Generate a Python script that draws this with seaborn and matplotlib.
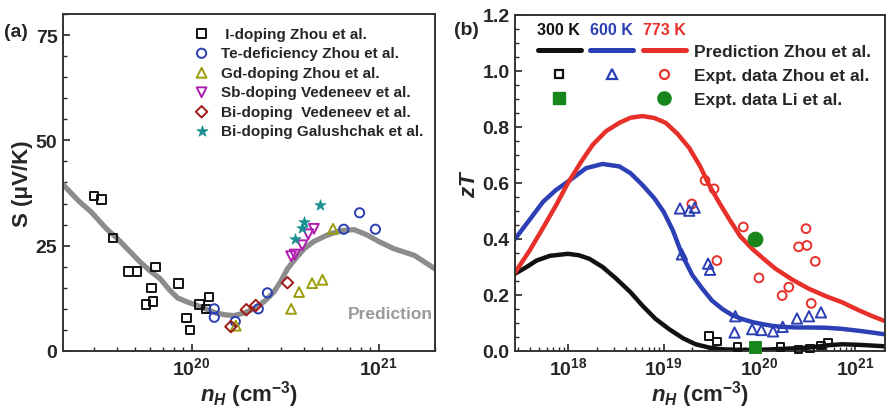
import numpy as np
import pandas as pd
import seaborn as sns
from matplotlib import pyplot as plt
from matplotlib.lines import Line2D
from matplotlib.legend_handler import HandlerTuple
from matplotlib.ticker import MultipleLocator, LogLocator, NullFormatter, FixedLocator, FixedFormatter

# ---------------- panel (a): Seebeck vs carrier concentration ----------------
pred_a_n = [2.05e19, 2.5e19, 2.9e19, 3.5e19, 4.0e19, 4.7e19, 5.3e19, 6.0e19, 6.8e19, 7.6e19,
            8.4e19, 9.5e19, 1.07e20, 1.2e20, 1.35e20, 1.5e20, 1.68e20, 1.9e20, 2.15e20, 2.45e20,
            2.75e20, 3.0e20, 3.25e20, 3.6e20, 4.0e20, 4.5e20, 5.3e20, 6.3e20, 7.4e20, 8.7e20,
            1.0e21, 1.2e21, 1.55e21, 2.0e21]
pred_a_S = [39.5, 35.5, 33.0, 29.0, 26.7, 23.5, 21.1, 19.0, 17.1, 14.5,
            12.6, 11.6, 10.8, 9.9, 9.0, 8.6, 8.4, 9.0, 10.0, 11.8,
            14.0, 16.6, 19.5, 22.0, 24.3, 26.0, 27.5, 28.6, 28.8, 27.5,
            26.0, 24.3, 22.7, 19.5]

i_dop_n = [3.0e19, 3.3e19, 3.8e19, 4.6e19, 5.1e19, 6.4e19, 6.1e19, 5.7e19, 6.2e19, 8.5e19,
           9.4e19, 9.8e19, 1.1e20, 1.24e20, 1.19e20]
i_dop_S = [36.8, 35.9, 26.8, 18.9, 18.9, 19.9, 14.9, 11.0, 11.7, 16.0,
           7.8, 5.0, 11.0, 12.8, 10.0]

te_def_n = [1.32e20, 1.32e20, 1.71e20, 2.27e20, 2.54e20, 6.5e20, 7.9e20, 9.6e20]
te_def_S = [10.0, 8.0, 7.0, 10.0, 13.8, 28.9, 32.8, 28.9]

gd_dop_n = [1.72e20, 3.4e20, 3.75e20, 4.4e20, 5.0e20, 5.7e20]
gd_dop_S = [6.0, 10.0, 14.0, 16.1, 16.9, 29.0]

sb_dop_n = [3.4e20, 3.56e20, 3.9e20, 4.2e20, 4.5e20]
sb_dop_S = [22.5, 22.9, 25.1, 27.7, 29.0]

bi_ved_n = [1.62e20, 1.96e20, 2.2e20, 3.25e20]
bi_ved_S = [5.8, 9.8, 10.8, 16.2]

bi_gal_n = [3.56e20, 3.87e20, 4.0e20, 4.85e20]
bi_gal_S = [26.5, 29.3, 30.5, 34.6]

# ---------------- panel (b): zT vs carrier concentration ----------------
pred_773_n = [2.8e17, 4e17, 5.5e17, 7.5e17, 1e18, 1.4e18, 1.82e18, 2.5e18, 3.45e18, 4.5e18,
              6e18, 8e18, 1.05e19, 1.4e19, 1.85e19, 2.4e19, 2.98e19, 3.8e19, 4.8e19, 6.3e19,
              8.4e19, 1.1e20, 1.47e20, 2.2e20, 3.3e20, 5e20, 7.3e20, 1.1e21, 1.5e21, 2e21]
pred_773_zT = [0.28, 0.36, 0.44, 0.52, 0.60, 0.68, 0.737, 0.785, 0.815, 0.833,
               0.839, 0.832, 0.815, 0.775, 0.725, 0.66, 0.593, 0.53, 0.473, 0.41,
               0.365, 0.33, 0.294, 0.255, 0.222, 0.195, 0.174, 0.145, 0.125, 0.108]

pred_600_n = [2.8e17, 4e17, 5.5e17, 7.5e17, 1e18, 1.55e18, 2.3e18, 3.45e18, 4.5e18, 6e18,
              8e18, 1e19, 1.25e19, 1.57e19, 2e19, 2.54e19, 3.2e19, 4.1e19, 5.2e19, 6.6e19,
              8.5e19, 1.07e20, 1.35e20, 1.73e20, 2.5e20, 3.3e20, 5e20, 7.3e20, 1.1e21, 1.5e21, 2e21]
pred_600_zT = [0.40, 0.47, 0.533, 0.575, 0.605, 0.653, 0.668, 0.659, 0.635, 0.593,
               0.545, 0.497, 0.43, 0.341, 0.27, 0.222, 0.18, 0.150, 0.128, 0.114,
               0.103, 0.096, 0.09, 0.086, 0.084, 0.084, 0.083, 0.079, 0.072, 0.066, 0.060]

pred_300_n = [2.8e17, 3.7e17, 4.7e17, 6.5e17, 1e18, 1.3e18, 1.68e18, 2.3e18, 3.2e18, 4.5e18,
              6e18, 8.2e18, 1.14e19, 1.6e19, 2.16e19, 3e19, 4.1e19, 6e19, 9.8e19, 1.6e20,
              3.3e20, 5e20, 7.3e20, 1.1e21, 2e21]
pred_300_zT = [0.276, 0.30, 0.323, 0.34, 0.347, 0.342, 0.329, 0.30, 0.258, 0.21,
               0.162, 0.115, 0.078, 0.045, 0.024, 0.012, 0.006, 0.004, 0.004, 0.007,
               0.012, 0.02, 0.024, 0.022, 0.017]

expt_773_n = [2.71e19, 3.36e19, 1.97e19, 6.8e19, 3.6e19, 9.9e19, 1.73e20, 2.03e20, 2.57e20,
              3.07e20, 3.14e20, 3.84e20, 3.48e20]
expt_773_zT = [0.609, 0.579, 0.525, 0.443, 0.323, 0.261, 0.198, 0.228, 0.372,
               0.437, 0.377, 0.320, 0.170]

expt_600_n = [1.48e19, 1.85e19, 2.11e19, 1.55e19, 2.91e19, 3.05e19, 5.6e19, 5.5e19, 8.4e19,
              1.05e20, 1.39e20, 1.75e20, 2.47e20, 3.3e20, 4.4e20]
expt_600_zT = [0.509, 0.501, 0.512, 0.345, 0.312, 0.290, 0.124, 0.066, 0.078,
               0.075, 0.070, 0.086, 0.116, 0.124, 0.138]

expt_300_n = [2.98e19, 3.6e19, 5.9e19, 1.66e20, 2.57e20, 3.37e20, 4.4e20, 5.2e20]
expt_300_zT = [0.054, 0.034, 0.014, 0.014, 0.006, 0.009, 0.020, 0.030]

li_300_n = [9.1e19]
li_300_zT = [0.014]
li_773_n = [9.1e19]
li_773_zT = [0.401]

# colours
c_black = '#111111'
c_blue = '#2c3fb4'
c_red = '#e8302a'
c_green = '#18861c'
c_gray = '#8c8c8c'

sns.set_style('ticks')
plt.rcParams['font.family'] = ['Liberation Sans', 'DejaVu Sans']
plt.rcParams['font.weight'] = 'bold'
plt.rcParams['axes.labelweight'] = 'bold'
plt.rcParams['mathtext.fontset'] = 'custom'
plt.rcParams['mathtext.rm'] = 'Liberation Sans:bold'
plt.rcParams['mathtext.bf'] = 'Liberation Sans:bold'
plt.rcParams['mathtext.it'] = 'Liberation Sans:italic:bold'
plt.rcParams['mathtext.bfit'] = 'Liberation Sans:italic:bold'

fig = plt.figure(figsize=(8.86, 4.10), dpi=100)
ax1 = fig.add_axes([0.0711, 0.1415, 0.4199, 0.822])
ax2 = fig.add_axes([0.5813, 0.1415, 0.4175, 0.8195])

# ---- panel (a)
sns.lineplot(x=pred_a_n, y=pred_a_S, ax=ax1, color=c_gray, linewidth=3.8,
             estimator=None, zorder=1)

series_a = [
    (i_dop_n, i_dop_S, 's', c_black, ' I-doping Zhou et al.', 38),
    (te_def_n, te_def_S, 'o', c_blue, 'Te-deficiency Zhou et al.', 44),
    (gd_dop_n, gd_dop_S, '^', '#9c9c0c', 'Gd-doping Zhou et al.', 50),
    (sb_dop_n, sb_dop_S, 'v', '#b01cb0', 'Sb-doping Vedeneev et al.', 50),
    (bi_ved_n, bi_ved_S, 'D', '#a01a14', 'Bi-doping  Vedeneev et al.', 34),
    (bi_gal_n, bi_gal_S, '*', '#1a9090', 'Bi-doping Galushchak et al.', 70),
]
for xs, ys, mk, col, lab, sz in series_a:
    if mk == '*':
        sns.scatterplot(x=xs, y=ys, ax=ax1, marker=mk, color=col, s=sz,
                        edgecolor=col, linewidth=0.5, label=lab, zorder=3)
    else:
        sns.scatterplot(x=xs, y=ys, ax=ax1, marker=mk, s=sz, facecolor='none',
                        edgecolor=col, linewidth=1.4, label=lab, zorder=3)

ax1.set_xscale('log')
ax1.set_xlim(2.05e19, 2.0e21)
ax1.set_ylim(0, 80)
ax1.yaxis.set_major_locator(FixedLocator([0, 25, 50, 75]))
ax1.yaxis.set_minor_locator(MultipleLocator(5))
ax1.xaxis.set_major_locator(FixedLocator([1e20, 1e21]))
ax1.xaxis.set_major_formatter(FixedFormatter([r'$10^{20}$', r'$10^{21}$']))
ax1.xaxis.set_minor_locator(LogLocator(base=10, subs=np.arange(2, 10)))
ax1.xaxis.set_minor_formatter(NullFormatter())
ax1.set_xlabel(r'$n_H$ (cm$^{-3}$)', fontsize=16, labelpad=0)
ax1.set_ylabel('S (μV/K)', fontsize=16, labelpad=2)
ax1.text(1.16e21, 8.8, 'Prediction', color='#9a9a9a', fontsize=12.5,
         fontweight='bold', ha='center', va='center')
ax1.legend(loc='upper left', bbox_to_anchor=(0.352, 0.962), frameon=False,
           fontsize=11, handlelength=1.0, handletextpad=0.8, labelspacing=0.36,
           borderpad=0, borderaxespad=0)

# ---- panel (b)
sns.lineplot(x=pred_300_n, y=pred_300_zT, ax=ax2, color=c_black, linewidth=3.2, estimator=None, zorder=2)
sns.lineplot(x=pred_600_n, y=pred_600_zT, ax=ax2, color=c_blue, linewidth=3.2, estimator=None, zorder=2)
sns.lineplot(x=pred_773_n, y=pred_773_zT, ax=ax2, color=c_red, linewidth=3.2, estimator=None, zorder=2)

sns.scatterplot(x=expt_773_n, y=expt_773_zT, ax=ax2, marker='o', s=40, facecolor='none',
                edgecolor=c_red, linewidth=1.4, zorder=3)
sns.scatterplot(x=expt_600_n, y=expt_600_zT, ax=ax2, marker='^', s=55, facecolor='none',
                edgecolor=c_blue, linewidth=1.4, zorder=3)
sns.scatterplot(x=expt_300_n, y=expt_300_zT, ax=ax2, marker='s', s=30, facecolor='none',
                edgecolor=c_black, linewidth=1.4, zorder=3, clip_on=False)
sns.scatterplot(x=li_300_n, y=li_300_zT, ax=ax2, marker='s', s=70, color=c_green,
                edgecolor=c_green, zorder=4, clip_on=False)
sns.scatterplot(x=li_773_n, y=li_773_zT, ax=ax2, marker='o', s=110, color=c_green,
                edgecolor=c_green, zorder=4)

ax2.set_xscale('log')
ax2.set_xlim(2.8e17, 2.05e21)
ax2.set_ylim(0, 1.2)
ax2.yaxis.set_major_locator(FixedLocator([0, 0.2, 0.4, 0.6, 0.8, 1.0, 1.2]))
ax2.yaxis.set_major_formatter(FixedFormatter(['0.0', '0.2', '0.4', '0.6', '0.8', '1.0', '1.2']))
ax2.yaxis.set_minor_locator(MultipleLocator(0.05))
ax2.xaxis.set_major_locator(FixedLocator([1e18, 1e19, 1e20, 1e21]))
ax2.xaxis.set_major_formatter(FixedFormatter([r'$10^{18}$', r'$10^{19}$', r'$10^{20}$', r'$10^{21}$']))
ax2.xaxis.set_minor_locator(LogLocator(base=10, subs=np.arange(2, 10)))
ax2.xaxis.set_minor_formatter(NullFormatter())
ax2.set_xlabel(r'$n_H$ (cm$^{-3}$)', fontsize=16, labelpad=0)
ax2.set_ylabel(r'$zT$', fontsize=16, labelpad=2)

# custom legend for (b)
l300 = Line2D([], [], color=c_black, lw=3.6, solid_capstyle='round')
l600 = Line2D([], [], color=c_blue, lw=3.6, solid_capstyle='round')
l773 = Line2D([], [], color=c_red, lw=3.6, solid_capstyle='round')
m300 = Line2D([], [], ls='none', marker='s', ms=5.5, mfc='none', mec=c_black, mew=1.6)
m600 = Line2D([], [], ls='none', marker='^', ms=7, mfc='none', mec=c_blue, mew=1.6)
m773 = Line2D([], [], ls='none', marker='o', ms=6.5, mfc='none', mec=c_red, mew=1.6)
g300 = Line2D([], [], ls='none', marker='s', ms=8, color=c_green)
gnone = Line2D([], [], ls='none')
g773 = Line2D([], [], ls='none', marker='o', ms=9.5, color=c_green)
ax2.legend(handles=[(l300, l600, l773), (m300, m600, m773), (g300, gnone, g773)],
           labels=['Prediction Zhou et al.', 'Expt. data Zhou et al.', 'Expt. data Li et al.'],
           handler_map={tuple: HandlerTuple(ndivide=None, pad=0.55)},
           loc='upper left', bbox_to_anchor=(0.062, 0.914), frameon=False,
           fontsize=12.5, handlelength=8.5, handletextpad=0.5, labelspacing=0.5,
           borderpad=0, borderaxespad=0)
for xt, txt, col in [(0.1186, '300 K', c_black), (0.261, '600 K', c_blue), (0.404, '773 K', c_red)]:
    ax2.text(xt, 0.958, txt, transform=ax2.transAxes, color=col, fontsize=11.5,
             fontweight='bold', ha='center', va='center')

for ax in (ax1, ax2):
    ax.tick_params(axis='both', which='major', direction='in', length=5, width=1.2,
                   labelsize=14, pad=4, top=False, right=False)
    ax.tick_params(axis='both', which='minor', direction='in', length=3, width=1.0,
                   top=False, right=False)
    for sp in ax.spines.values():
        sp.set_visible(True)
        sp.set_linewidth(1.4)
        sp.set_color('#333333')
    for lbl in ax.get_yticklabels():
        lbl.set_fontweight('bold')

fig.text(0.004, 0.92, '(a)', fontsize=14, fontweight='bold', ha='left', va='center')
fig.text(0.512, 0.925, '(b)', fontsize=14, fontweight='bold', ha='left', va='center')

fig.savefig('out.png', dpi=100)
